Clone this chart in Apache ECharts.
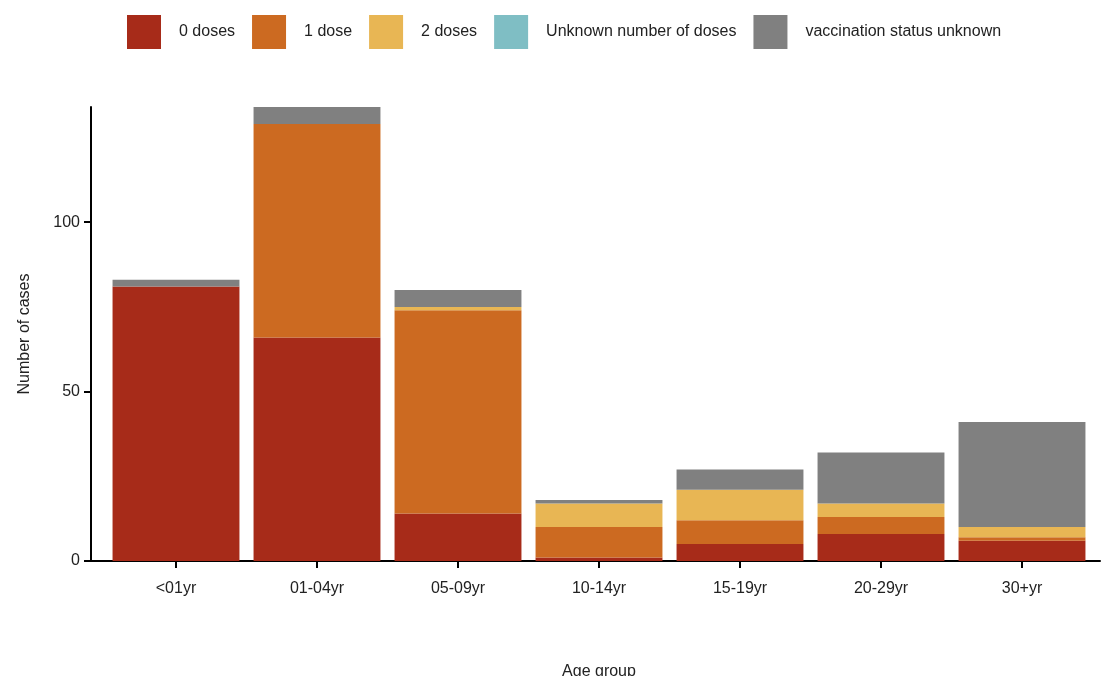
<!DOCTYPE html>
<html>
<head>
<meta charset="utf-8">
<script src="https://cdn.jsdelivr.net/npm/echarts@6/dist/echarts.min.js"></script>
<style>
html,body{margin:0;padding:0;background:#fff;}
#chart{width:1102px;height:676px;}
</style>
</head>
<body>
<div id="chart"></div>
<script>
const categories = ['<01yr', '01-04yr', '05-09yr', '10-14yr', '15-19yr', '20-29yr', '30+yr'];
const zeroDoses = [81, 66, 14, 1, 5, 8, 6];
const oneDose = [0, 63, 60, 9, 7, 5, 1];
const twoDoses = [0, 0, 1, 7, 9, 4, 3];
const unknownDoses = [0, 0, 0, 0, 0, 0, 0];
const statusUnknown = [2, 5, 5, 1, 6, 15, 31];
const yTicks = [0, 50, 100];

const FONT = '"Liberation Sans", Arial, sans-serif';
const TXT = '#222';

const seriesDefs = [
  { name: '0 doses', data: zeroDoses, color: '#A72B19' },
  { name: '1 dose', data: oneDose, color: '#CC6A21' },
  { name: '2 doses', data: twoDoses, color: '#E8B654' },
  { name: 'Unknown number of doses', data: unknownDoses, color: '#7FBEC4' },
  { name: 'vaccination status unknown', data: statusUnknown, color: '#808080' }
];

const chart = echarts.init(document.getElementById('chart'), null, { renderer: 'canvas' });
chart.setOption({
  animation: false,
  backgroundColor: '#fff',
  textStyle: { fontFamily: FONT },
  legend: {
    left: 127, top: 15, padding: 0,
    itemWidth: 34, itemHeight: 34, itemGap: 17,
    icon: 'rect',
    textStyle: { fontSize: 16, color: TXT, fontFamily: FONT, padding: [6, 0, 0, 13] },
    data: seriesDefs.map(s => s.name)
  },
  grid: [
    { left: 105.5, right: 9.5, top: 107, bottom: 115, containLabel: false, outerBoundsMode: 'none' },
    { left: 91, right: 2, top: 107, bottom: 115, containLabel: false, outerBoundsMode: 'none' }
  ],
  xAxis: [
    {
      type: 'category', gridIndex: 0, data: categories,
      axisLine: { show: false },
      axisTick: { show: true, alignWithLabel: true, length: 7, lineStyle: { color: '#000', width: 2 } },
      axisLabel: { color: TXT, fontSize: 16, margin: 20, fontFamily: FONT },
      name: 'Age group', nameLocation: 'middle', nameGap: 103,
      nameTextStyle: { color: TXT, fontSize: 16, fontFamily: FONT }
    },
    {
      type: 'value', gridIndex: 1, min: 0, max: 1,
      axisLine: { show: true, lineStyle: { color: '#000', width: 2 } },
      axisTick: { show: false }, axisLabel: { show: false }, splitLine: { show: false }
    }
  ],
  yAxis: [
    {
      type: 'value', gridIndex: 0, min: 0, max: 134, offset: 14.5,
      axisLine: { show: true, lineStyle: { color: '#000', width: 2 } },
      axisTick: { show: true, length: 7, lineStyle: { color: '#000', width: 2 }, customValues: yTicks },
      axisLabel: { color: TXT, fontSize: 16, margin: 11, fontFamily: FONT, customValues: yTicks },
      splitLine: { show: false },
      name: 'Number of cases', nameLocation: 'middle', nameGap: 58,
      nameTextStyle: { color: TXT, fontSize: 16, fontFamily: FONT }
    },
    {
      type: 'value', gridIndex: 1, min: 0, max: 1, show: false
    }
  ],
  series: seriesDefs.map(s => ({
    name: s.name,
    type: 'bar',
    stack: 'total',
    xAxisIndex: 0, yAxisIndex: 0,
    data: s.data,
    barCategoryGap: '10%',
    itemStyle: { color: s.color },
    emphasis: { disabled: true }
  }))
});
</script>
</body>
</html>
